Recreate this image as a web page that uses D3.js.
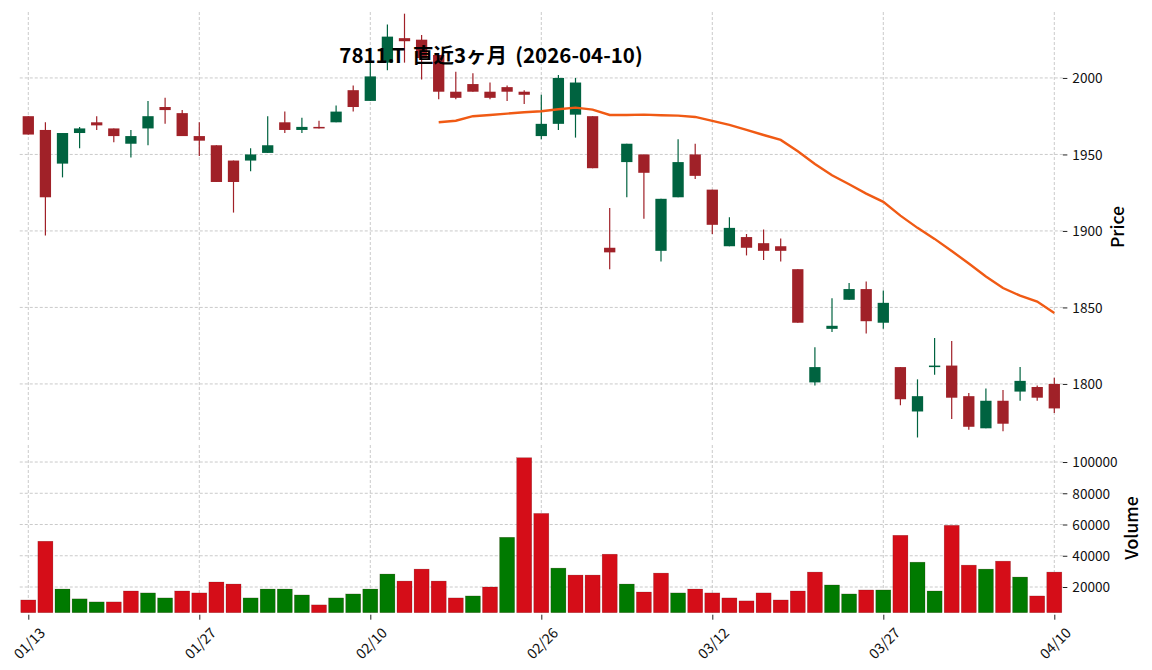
<!DOCTYPE html>
<html><head><meta charset="utf-8">
<script src="https://cdn.jsdelivr.net/npm/d3@7"></script>
<style>body{margin:0;background:#fff}</style>
</head><body><svg id="c" width="1152" height="670"></svg>
<script>
const dates = ['01/13','01/14','01/15','01/16','01/19','01/20','01/21','01/22','01/23','01/26',
 '01/27','01/28','01/29','01/30','02/02','02/03','02/04','02/05','02/06','02/09',
 '02/10','02/12','02/13','02/16','02/17','02/18','02/19','02/20','02/24','02/25',
 '02/26','02/27','03/02','03/03','03/04','03/05','03/06','03/09','03/10','03/11',
 '03/12','03/13','03/16','03/17','03/18','03/19','03/23','03/24','03/25','03/26',
 '03/27','03/30','03/31','04/01','04/02','04/03','04/06','04/07','04/08','04/09','04/10'];
const opens  = [1975,1966,1944,1964,1971,1967,1957,1967,1981,1977,1962,1956,1946,1946,1951,1971,1966,1968,1971,1992,
 1985,2010,2026,2025,2015,1991,1996,1991,1994,1991,1962,1970,1976,1975,1889,1945,1950,1887,1922,1950,
 1927,1890,1896,1892,1890,1875,1801,1836,1855,1862,1840,1811,1782,1811,1812,1792,1771,1789,1795,1798,1800];
const highs  = [1975,1971,1964,1968,1975,1967,1966,1985,1987,1979,1971,1956,1946,1954,1975,1978,1974,1972,1982,1995,
 2012,2035,2042,2028,2015,2004,2003,1997,1995,1992,1989,2002,2000,1975,1915,1957,1950,1921,1960,1957,
 1927,1909,1898,1901,1895,1875,1824,1856,1866,1867,1861,1811,1803,1830,1828,1794,1797,1796,1811,1799,1804];
const lows   = [1963,1897,1935,1954,1966,1958,1948,1956,1970,1962,1949,1932,1912,1939,1951,1964,1964,1967,1971,1978,
 1985,2005,2010,1999,1986,1986,1991,1986,1985,1983,1960,1966,1961,1941,1875,1922,1908,1880,1922,1934,
 1898,1890,1884,1881,1880,1840,1799,1834,1855,1833,1836,1786,1765,1806,1777,1770,1771,1769,1789,1789,1781];
const closes = [1963,1922,1964,1967,1969,1962,1962,1975,1979,1962,1959,1932,1932,1950,1956,1966,1968,1967,1978,1981,
 2001,2027,2024,2013,1991,1987,1991,1987,1991,1989,1970,2000,1997,1941,1886,1957,1938,1921,1945,1936,
 1904,1902,1889,1887,1887,1840,1811,1838,1862,1841,1853,1790,1792,1812,1791,1772,1789,1774,1802,1791,1784];
const volumes = [11700,49300,18700,12400,10450,10450,17450,16200,13000,17450,16200,23200,21900,13000,18700,18700,14900,8540,13000,15550,
 18700,28300,23800,31460,23800,13000,14270,20000,51830,102760,67100,32100,27640,27640,41000,21900,16800,28900,16200,18700,
 16200,13000,11100,16200,11700,17450,29550,21300,15550,18100,18100,53100,35900,17450,59470,34000,31460,36550,26370,14270,29550];
const ma25 = [null,null,null,null,null,null,null,null,null,null,null,null,null,null,null,null,null,null,null,null,
 null,null,null,null,1971,1972,1975,1975.8,1976.7,1977.6,1978.2,1979.5,1980.6,1979.3,1975.8,1975.8,1976,1975.6,1975.4,1974.5,
 1971.9,1969.3,1966,1962.7,1959.5,1952.1,1943.8,1936.4,1930.5,1924.4,1919,1910,1902,1894.8,1886.9,1878.7,1870.2,1862.7,1857.7,1853.8,1846.4];
const priceTicks = [1800,1850,1900,1950,2000];
const volumeTicks = [20000,40000,60000,80000,100000];
const dateTickIdx = [0,10,20,30,40,50,60];
const title = '7811.T 直近3ヶ月 (2026-04-10)';

const svg = d3.select('#c');
const L = 19.75, R = 1062.85;
const pTop = 12, pBot = 441, vTop = 445, vBot = 612.7;
const x = d3.scaleLinear().domain([-0.5, 60.5]).range([L, R]);
const yP = d3.scaleLinear().domain([1762.7, 2043.1]).range([pBot, pTop]);
const yV = d3.scaleLinear().domain([3550, 110900]).range([vBot, vTop]);
const step = x(1) - x(0);

const gridStyle = s => s.attr('stroke', '#bdbdbd').attr('stroke-width', 0.8).attr('stroke-dasharray', '3,2').attr('fill', 'none');
const grid = svg.append('g');
grid.selectAll('.hp').data(priceTicks).join('line').attr('x1', L).attr('x2', R).attr('y1', d => yP(d)).attr('y2', d => yP(d)).call(gridStyle);
grid.selectAll('.hv').data(volumeTicks).join('line').attr('x1', L).attr('x2', R).attr('y1', d => yV(d)).attr('y2', d => yV(d)).call(gridStyle);
grid.selectAll('.vp').data(dateTickIdx).join('line').attr('x1', d => x(d)).attr('x2', d => x(d)).attr('y1', pTop).attr('y2', pBot).call(gridStyle);
grid.selectAll('.vv').data(dateTickIdx).join('line').attr('x1', d => x(d)).attr('x2', d => x(d)).attr('y1', vTop).attr('y2', vBot).call(gridStyle);

const UP = '#006340', DOWN = '#A02128', VUP = '#007a00', VDOWN = '#d50d18';
const idx = d3.range(dates.length);

// volume
svg.append('g').selectAll('rect').data(idx).join('rect')
  .attr('x', i => x(i) - step * 0.44).attr('width', step * 0.88)
  .attr('y', i => yV(volumes[i])).attr('height', i => vBot - yV(volumes[i]))
  .attr('fill', i => (i > 0 && closes[i] > closes[i - 1]) ? VUP : VDOWN)
  .attr('stroke', 'rgba(60,0,0,0.35)').attr('stroke-width', 0.5);

// candles
const cg = svg.append('g');
cg.selectAll('line').data(idx).join('line')
  .attr('x1', i => x(i)).attr('x2', i => x(i))
  .attr('y1', i => yP(highs[i])).attr('y2', i => yP(lows[i]))
  .attr('stroke', i => closes[i] >= opens[i] ? UP : DOWN).attr('stroke-width', 1.2);
cg.selectAll('rect').data(idx).join('rect')
  .attr('x', i => x(i) - step * 0.33).attr('width', step * 0.66)
  .attr('y', i => yP(Math.max(opens[i], closes[i])))
  .attr('height', i => Math.max(1.2, Math.abs(yP(opens[i]) - yP(closes[i]))))
  .attr('fill', i => closes[i] >= opens[i] ? UP : DOWN);

// moving average
const line = d3.line().defined(i => ma25[i] != null).x(i => x(i)).y(i => yP(ma25[i])).curve(d3.curveLinear);
svg.append('path').datum(idx).attr('d', line).attr('fill', 'none').attr('stroke', '#f05a14').attr('stroke-width', 2.4);

// axes
const jp = '"Noto Sans CJK JP", "Noto Sans", sans-serif';
const ay = svg.append('g').attr('transform', `translate(${R},0)`)
  .call(d3.axisRight(yP).tickValues(priceTicks).tickSize(4.5).tickPadding(5).tickFormat(d3.format('d')));
const av = svg.append('g').attr('transform', `translate(${R},0)`)
  .call(d3.axisRight(yV).tickValues(volumeTicks).tickSize(4.5).tickPadding(5).tickFormat(d3.format('d')));
const ax = svg.append('g').attr('transform', `translate(0,${vBot + 2})`)
  .call(d3.axisBottom(x).tickValues(dateTickIdx).tickSize(5).tickFormat(d => dates[d]));
[ay, av, ax].forEach(a => {
  a.select('.domain').remove();
  a.selectAll('.tick line').attr('stroke', '#222').attr('stroke-width', 1);
  a.selectAll('.tick text').attr('font-family', jp).attr('font-size', 13.6).attr('fill', '#111');
});
ay.selectAll('.tick text').attr('dy', '0.35em');
av.selectAll('.tick text').attr('dy', '0.35em');
ax.selectAll('.tick text')
  .attr('y', 0).attr('dy', 0).attr('font-size', 14.2)
  .attr('text-anchor', 'middle').attr('dominant-baseline', 'central')
  .attr('transform', 'translate(0,28) rotate(-45)');

// labels
svg.append('text').attr('transform', 'translate(1124,227) rotate(-90)')
  .attr('text-anchor', 'middle').attr('font-family', jp).attr('font-size', 17.5).attr('font-weight', 500).text('Price');
svg.append('text').attr('transform', 'translate(1138,528) rotate(-90)')
  .attr('text-anchor', 'middle').attr('font-family', jp).attr('font-size', 17.5).attr('font-weight', 500).text('Volume');
svg.append('text').attr('x', 491).attr('y', 63).attr('text-anchor', 'middle')
  .attr('font-family', jp).attr('font-size', 20.5).attr('font-weight', 'bold').attr('word-spacing', 3.5)
  .attr('fill', '#000').text(title);
</script></body></html>
